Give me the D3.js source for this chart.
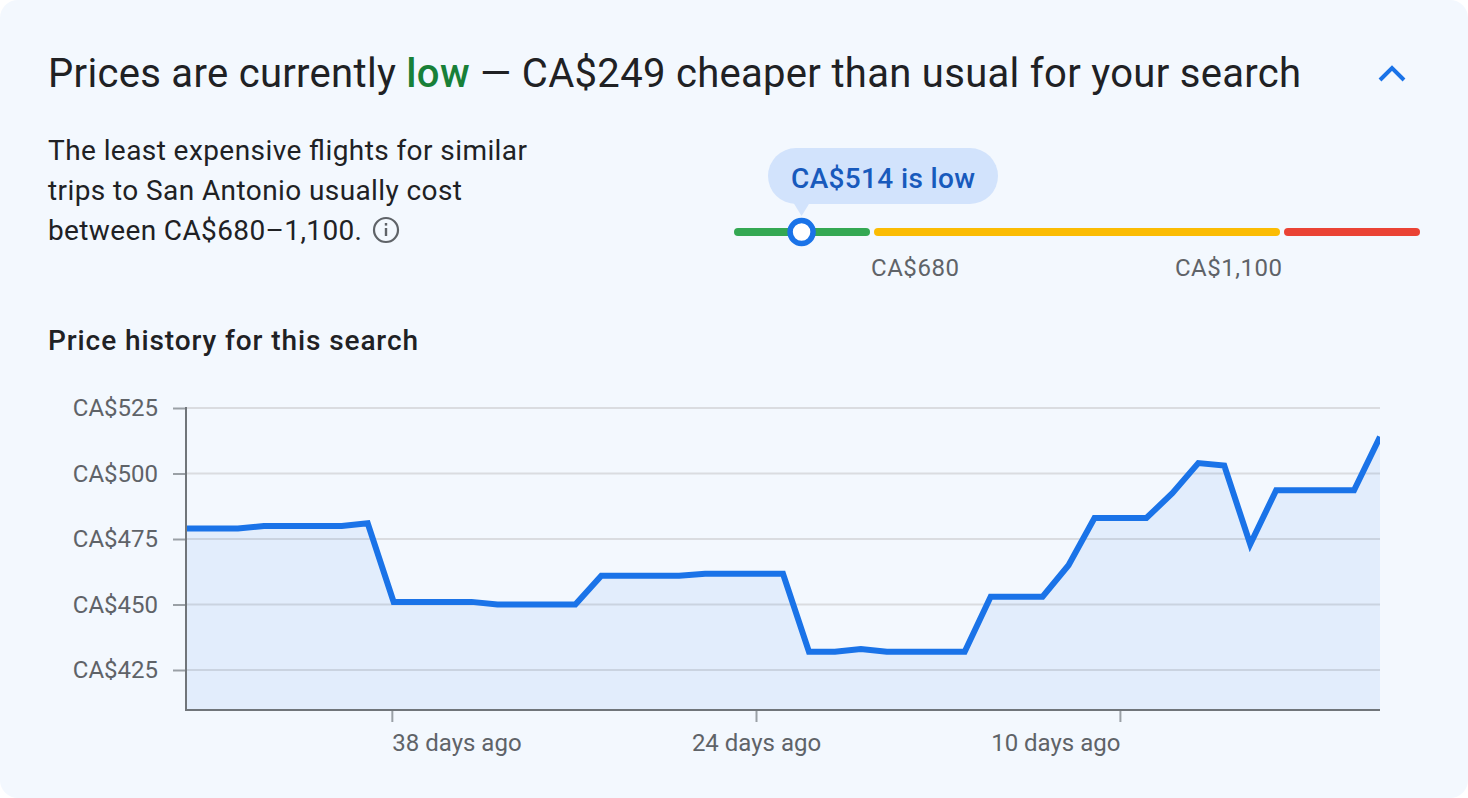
<!DOCTYPE html>
<html><head><meta charset="utf-8">
<script src="https://cdn.jsdelivr.net/npm/d3@7"></script>
<style>
html,body{margin:0;padding:0;background:#fff;overflow:hidden}
svg{display:block}
text{font-family:Roboto,sans-serif}
.axis text{font-family:Roboto,sans-serif;font-size:24px;fill:#5f6368}
</style></head><body><svg id="c" width="1468" height="798"></svg>
<script>
const prices=[479,479,479,480,480,480,480,481,451,451,451,451,450,450,450,450,461,461,461,461,461.7,461.7,461.7,461.7,432,432,433,432,432,432,432,453,453,453,465,483,483,483,492.5,504,503,473,493.6,493.6,493.6,493.6,514];
const yTicks=[425,450,475,500,525];
const xTickPositions=[7.93,21.96,35.98];
const xTickLabels=["38 days ago","24 days ago","10 days ago"];
const xTickAnchors=["start","middle","end"];
const rangeStops=[357,680,1100,1423];
const rangeColors=["#34a853","#fbbc04","#ea4335"];
const rangeLabels=["CA$680","CA$1,100"];
const currentPrice=514;

const svg=d3.select("#c");
svg.append("rect").attr("x",0).attr("y",0).attr("width",1468).attr("height",798).attr("rx",18).attr("fill","#f3f8fe");

const ink="#202124", grey="#5f6368", blue="#1a73e8";

// Header
const title=svg.append("text").attr("x",48).attr("y",86.5).attr("font-size",40).attr("fill",ink)
  .attr("textLength",1253).attr("lengthAdjust","spacing");
title.append("tspan").text("Prices are currently ");
title.append("tspan").attr("fill","#188038").attr("font-weight",500).text("low");
title.append("tspan").text(" — CA$249 cheaper than usual for your search");

svg.append("path").attr("d","M1380 80L1392 68L1404 80").attr("fill","none").attr("stroke",blue).attr("stroke-width",4);

// Description
[["The least expensive flights for similar",479,160],["trips to San Antonio usually cost",414,200],["between CA$680–1,100.",314,240]].forEach(([t,w,y])=>{
  svg.append("text").attr("x",48).attr("y",y).attr("font-size",28).attr("fill",ink).attr("textLength",w).text(t);
});
const info=svg.append("g").attr("transform","translate(386,230)");
info.append("circle").attr("r",12).attr("fill","none").attr("stroke",grey).attr("stroke-width",2.2);
info.append("rect").attr("x",-1.2).attr("y",-2).attr("width",2.4).attr("height",8).attr("fill",grey);
info.append("rect").attr("x",-1.2).attr("y",-7).attr("width",2.4).attr("height",2.6).attr("fill",grey);

// Price range gauge
const rx=d3.scaleLinear().domain(rangeStops).range([734,872,1282,1420]);
rangeColors.forEach((c,i)=>{
  const a=rx(rangeStops[i])+(i?2:0), b=rx(rangeStops[i+1])-(i<2?2:0);
  svg.append("rect").attr("x",a).attr("y",228).attr("width",b-a).attr("height",8).attr("rx",4).attr("fill",c);
});
svg.append("text").attr("x",rx(rangeStops[1])-1).attr("y",276).attr("font-size",24).attr("fill",grey).attr("textLength",88).text(rangeLabels[0]);
svg.append("text").attr("x",rx(rangeStops[2])-107).attr("y",276).attr("font-size",24).attr("fill",grey).attr("textLength",107).text(rangeLabels[1]);

const mx=rx(currentPrice)+0.5;
svg.append("rect").attr("x",768).attr("y",148).attr("width",230).attr("height",56).attr("rx",28).attr("fill","#d2e3fc");
svg.append("path").attr("d",`M${mx-8} 203L${mx} 216L${mx+8} 203Z`).attr("fill","#d2e3fc");
svg.append("text").attr("x",791).attr("y",188).attr("font-size",28).attr("font-weight",500).attr("fill","#185abc").attr("textLength",184).text(`CA$${currentPrice} is low`);
svg.append("circle").attr("cx",mx).attr("cy",232).attr("r",11.5).attr("fill","#fff").attr("stroke",blue).attr("stroke-width",5.5);

// Chart heading
svg.append("text").attr("x",48).attr("y",350).attr("font-size",28).attr("font-weight",500).attr("fill",ink).attr("textLength",370).text("Price history for this search");

// Chart
const x=d3.scaleLinear().domain([0,prices.length-1]).range([186,1380]);
const y=d3.scaleLinear().domain([525,425]).range([408,670]);
const baseY=710;

svg.append("clipPath").attr("id","plot").append("rect").attr("x",186).attr("y",400).attr("width",1194).attr("height",310);

const gy=svg.append("g").attr("class","axis").attr("transform","translate(186,0)")
  .call(d3.axisLeft(y).tickValues(yTicks).tickSize(13).tickPadding(15).tickFormat(d=>"CA$"+d));
gy.select(".domain").remove();
gy.selectAll("line").attr("stroke","#9aa0a6").attr("stroke-width",2);
svg.append("g").selectAll("line").data(yTicks).join("line")
  .attr("x1",186).attr("x2",1380).attr("y1",d=>y(d)).attr("y2",d=>y(d)).attr("stroke","#dadce0").attr("stroke-width",2);

svg.append("path").datum(prices).attr("clip-path","url(#plot)").attr("fill",blue).attr("fill-opacity",0.08)
  .attr("d",d3.area().x((d,i)=>x(i)).y0(baseY).y1(d=>y(d)));
svg.append("path").datum(prices).attr("clip-path","url(#plot)").attr("fill","none").attr("stroke",blue).attr("stroke-width",6).attr("stroke-linejoin","miter")
  .attr("d",d3.line().x((d,i)=>x(i)).y(d=>y(d)));

const gx=svg.append("g").attr("class","axis").attr("transform",`translate(0,${baseY})`)
  .call(d3.axisBottom(x).tickValues(xTickPositions).tickSize(12).tickPadding(12).tickFormat((d,i)=>xTickLabels[i]));
gx.select(".domain").remove();
gx.selectAll("line").attr("stroke","#9aa0a6").attr("stroke-width",2);
gx.selectAll("text").attr("text-anchor",(d,i)=>xTickAnchors[i]);

svg.append("line").attr("x1",186).attr("x2",186).attr("y1",407).attr("y2",711).attr("stroke","#70757a").attr("stroke-width",2);
svg.append("line").attr("x1",185).attr("x2",1380).attr("y1",710).attr("y2",710).attr("stroke","#70757a").attr("stroke-width",2);
</script></body></html>
